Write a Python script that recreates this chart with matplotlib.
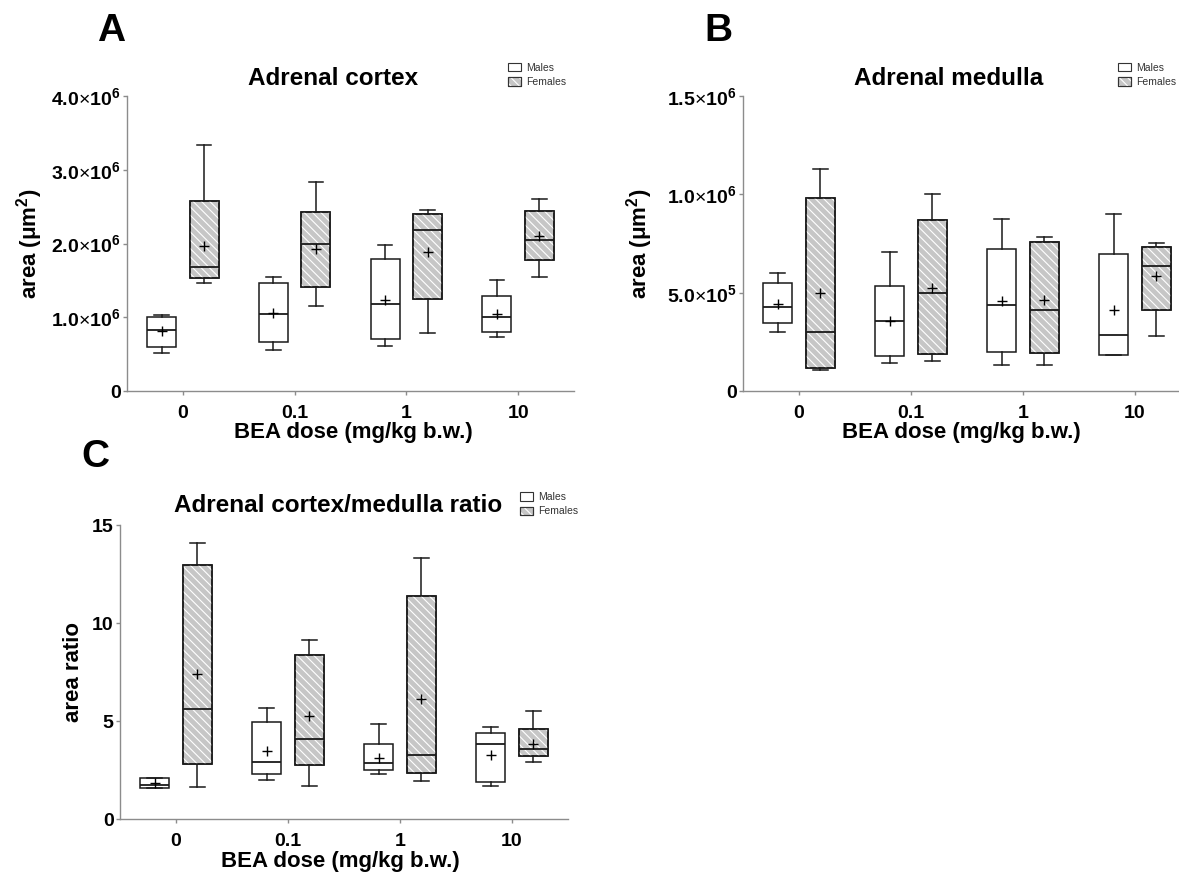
import matplotlib
matplotlib.use('Agg')
import matplotlib.pyplot as plt
from matplotlib.patches import Patch, PathPatch
from matplotlib.ticker import FixedLocator, FuncFormatter
from matplotlib.legend_handler import HandlerTuple

plt.rcParams['font.family'] = ['Liberation Sans', 'DejaVu Sans']
plt.rcParams['mathtext.fontset'] = 'custom'
plt.rcParams['mathtext.rm'] = 'Liberation Sans'
plt.rcParams['mathtext.it'] = 'Liberation Sans:italic'
plt.rcParams['mathtext.bf'] = 'Liberation Sans:bold'
plt.rcParams['hatch.linewidth'] = 0.8

# ---------------- data ----------------
doses = ['0', '0.1', '1', '10']
groups = ['Males', 'Females']
# each row: [whisker low, Q1, median, Q3, whisker high, mean] for one dose
cortex_males = [[0.52e6, 0.60e6, 0.83e6, 1.00e6, 1.026e6, 0.81e6],
                [0.55e6, 0.66e6, 1.04e6, 1.47e6, 1.54e6, 1.06e6],
                [0.61e6, 0.70e6, 1.18e6, 1.79e6, 1.98e6, 1.23e6],
                [0.73e6, 0.80e6, 1.01e6, 1.29e6, 1.50e6, 1.04e6]]
cortex_females = [[1.47e6, 1.53e6, 1.68e6, 2.58e6, 3.33e6, 1.97e6],
                  [1.15e6, 1.41e6, 1.99e6, 2.43e6, 2.84e6, 1.93e6],
                  [0.78e6, 1.25e6, 2.18e6, 2.40e6, 2.45e6, 1.89e6],
                  [1.55e6, 1.77e6, 2.05e6, 2.44e6, 2.61e6, 2.10e6]]
medulla_males = [[0.298e6, 0.346e6, 0.425e6, 0.550e6, 0.600e6, 0.444e6],
                 [0.141e6, 0.178e6, 0.358e6, 0.534e6, 0.707e6, 0.356e6],
                 [0.130e6, 0.200e6, 0.436e6, 0.720e6, 0.875e6, 0.456e6],
                 [0.181e6, 0.185e6, 0.286e6, 0.697e6, 0.902e6, 0.410e6]]
medulla_females = [[0.107e6, 0.119e6, 0.298e6, 0.983e6, 1.129e6, 0.500e6],
                   [0.154e6, 0.186e6, 0.497e6, 0.871e6, 1.000e6, 0.524e6],
                   [0.130e6, 0.195e6, 0.414e6, 0.756e6, 0.785e6, 0.463e6],
                   [0.281e6, 0.412e6, 0.634e6, 0.732e6, 0.754e6, 0.585e6]]
ratio_males = [[1.60, 1.60, 1.76, 2.10, 2.10, 1.82],
               [2.00, 2.29, 2.92, 4.96, 5.65, 3.48],
               [2.29, 2.49, 2.87, 3.85, 4.84, 3.12],
               [1.66, 1.87, 3.82, 4.38, 4.68, 3.26]]
ratio_females = [[1.61, 2.82, 5.63, 12.98, 14.08, 7.42],
                 [1.66, 2.75, 4.06, 8.38, 9.15, 5.24],
                 [1.92, 2.36, 3.28, 11.40, 13.34, 6.14],
                 [2.90, 3.21, 3.56, 4.60, 5.53, 3.83]]

cortex_yticks = [0, 1e6, 2e6, 3e6, 4e6]
medulla_yticks = [0, 5e5, 1e6, 1.5e6]
ratio_yticks = [0, 5, 10, 15]

titles = ['Adrenal cortex', 'Adrenal medulla', 'Adrenal cortex/medulla ratio']
ylabels = ['area (\u03bcm$^{\\mathbf{2}}$)', 'area (\u03bcm$^{\\mathbf{2}}$)', 'area ratio']
xlabel = 'BEA dose (mg/kg b.w.)'
panel_letters = ['A', 'B', 'C']

# ---------------- style ----------------
W, H = 1179, 876
GRAY = '#c6c6c6'
EDGE = '#1a1a1a'
SPINE = '#8c8c8c'
HATCH = '\\\\\\\\'


def sci_fmt(v, pos):
    if v == 0:
        return '0'
    if abs(v) < 100:
        return '%g' % v
    exp = 0
    m = v
    while abs(m) >= 10:
        m /= 10.0
        exp += 1
    return '%.1f$\\times$10$^{\\mathbf{%d}}$' % (m, exp)


def px_axes(x0, y0, x1, y1):
    return [x0 / W, 1 - y1 / H, (x1 - x0) / W, (y1 - y0) / H]


def draw_panel(ax, males, females, yticks):
    for vals, off, face, hatched in [(males, -0.19, 'white', False),
                                     (females, 0.19, GRAY, True)]:
        stats = [dict(whislo=v[0], q1=v[1], med=v[2], q3=v[3], whishi=v[4],
                      mean=v[5], fliers=[]) for v in vals]
        pos = [i + off for i in range(len(vals))]
        art = ax.bxp(stats, positions=pos, widths=0.26, capwidths=0.13,
                     patch_artist=True, showmeans=True, meanline=False,
                     showfliers=False, manage_ticks=False,
                     boxprops=dict(facecolor=face, edgecolor=EDGE, linewidth=1.1),
                     whiskerprops=dict(color=EDGE, linewidth=1.1),
                     capprops=dict(color=EDGE, linewidth=1.1),
                     medianprops=dict(color=EDGE, linewidth=1.3),
                     meanprops=dict(marker='+', markeredgecolor='black',
                                    markerfacecolor='black', markersize=7,
                                    markeredgewidth=1.0))
        if hatched:
            for box in art['boxes']:
                z = box.get_zorder()
                ax.add_patch(PathPatch(box.get_path(), facecolor='none',
                                       edgecolor='white', linewidth=0,
                                       hatch=HATCH, zorder=z + 0.01))
                ax.add_patch(PathPatch(box.get_path(), fill=False,
                                       edgecolor=EDGE, linewidth=1.1,
                                       zorder=z + 0.02))
    ax.set_xlim(-0.5, 3.5)
    ax.set_ylim(0, yticks[-1])
    ax.xaxis.set_major_locator(FixedLocator(range(len(doses))))
    ax.set_xticklabels(doses)
    ax.yaxis.set_major_locator(FixedLocator(yticks))
    ax.yaxis.set_major_formatter(FuncFormatter(sci_fmt))
    for s in ['top', 'right']:
        ax.spines[s].set_visible(False)
    for s in ['left', 'bottom']:
        ax.spines[s].set_color(SPINE)
        ax.spines[s].set_linewidth(1.0)
    ax.tick_params(axis='x', length=3, width=1, color=SPINE, pad=7,
                   labelsize=14)
    ax.tick_params(axis='y', length=3, width=1, color=SPINE, pad=1.5,
                   labelsize=14)
    for lab in ax.get_xticklabels() + ax.get_yticklabels():
        lab.set_fontweight('bold')


def add_legend(ax, x, y):
    hm = Patch(facecolor='white', edgecolor='#333333', linewidth=0.8)
    hf = (Patch(facecolor=GRAY, edgecolor='#333333', linewidth=0.8),
          Patch(facecolor='none', edgecolor='white', linewidth=0, hatch=HATCH),
          Patch(fill=False, edgecolor='#333333', linewidth=0.8))
    leg = ax.legend([hm, hf], groups, loc='center left',
                    bbox_to_anchor=(x, y), frameon=False, fontsize=7.5,
                    handlelength=1.25, handleheight=0.9, handletextpad=0.5,
                    labelspacing=0.45, borderpad=0, borderaxespad=0,
                    handler_map={tuple: HandlerTuple(ndivide=1)})
    for t in leg.get_texts():
        t.set_color('#333333')


fig = plt.figure(figsize=(W / 100, H / 100), dpi=100)

axA = fig.add_axes(px_axes(127, 96, 574, 391))
axB = fig.add_axes(px_axes(743, 96, 1191, 391))
axC = fig.add_axes(px_axes(120, 525, 568, 819))

draw_panel(axA, cortex_males, cortex_females, cortex_yticks)
draw_panel(axB, medulla_males, medulla_females, medulla_yticks)
draw_panel(axC, ratio_males, ratio_females, ratio_yticks)

specs = [
    # ax, title x, title y, ylabel x, xlabel x, xlabel y, legend x, legend y
    (axA, 0.461, 1.061, -0.219, 0.506, -0.139, 0.853, 1.071),
    (axB, 0.458, 1.061, -0.232, 0.487, -0.139, 0.837, 1.071),
    (axC, 0.487, 1.068, -0.103, 0.491, -0.146, 0.893, 1.071),
]
for (ax, tx, ty, ylx, xlx, xly, lx, ly), title, ylab in zip(specs, titles, ylabels):
    ax.text(tx, ty, title, transform=ax.transAxes, ha='center', va='center',
            fontsize=17.5, fontweight='bold')
    ax.set_ylabel(ylab, fontsize=16, fontweight='bold', va='center')
    ax.yaxis.set_label_coords(ylx, 0.5)
    ax.set_xlabel(xlabel, fontsize=16, fontweight='bold', va='center')
    ax.xaxis.set_label_coords(xlx, xly)
    add_legend(ax, lx, ly)

for letter, (x, y) in zip(panel_letters, [(111, 31), (718, 31), (95, 457)]):
    fig.text(x / W, 1 - y / H, letter, ha='center', va='center',
             fontsize=28, fontweight='bold')

fig.savefig('out.png', dpi=100)
